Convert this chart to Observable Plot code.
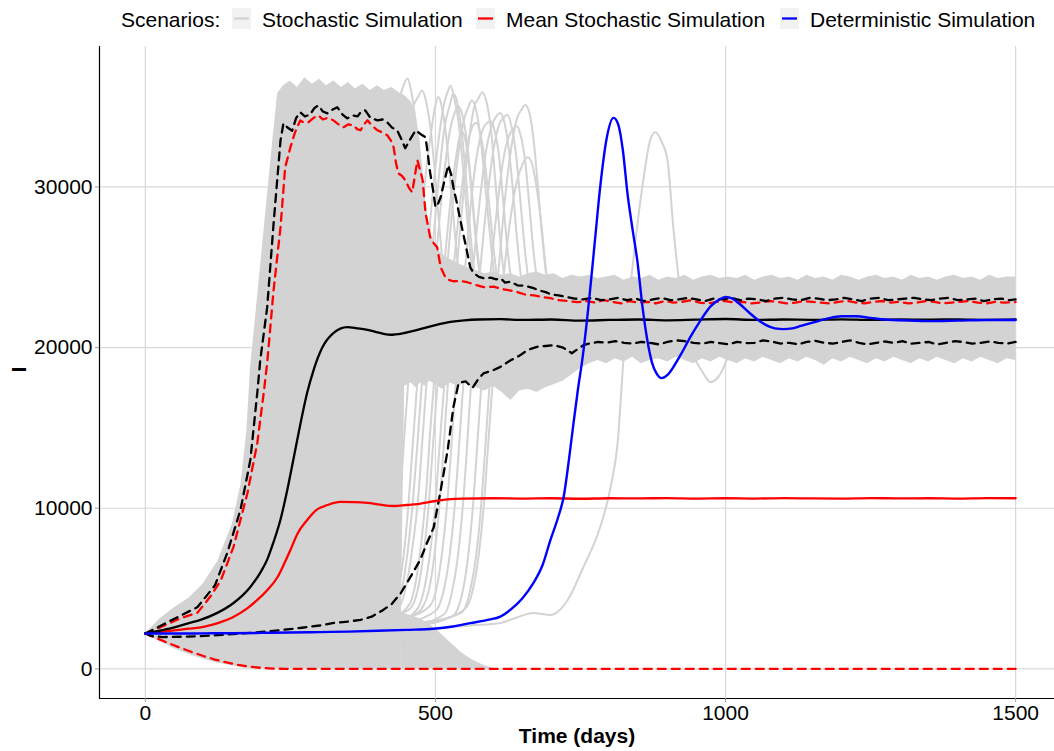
<!DOCTYPE html>
<html>
<head>
<meta charset="utf-8">
<script src="https://cdn.jsdelivr.net/npm/d3@7"></script>
<script src="https://cdn.jsdelivr.net/npm/@observablehq/plot@0.6"></script>
<style>
  body { margin: 0; background: #fff; font-family: "Liberation Sans", Arial, sans-serif; }
  #legend { position: relative; width: 1054px; height: 40px; font-size: 21px; color: #000; }
  #legend span { position: absolute; top: 9px; line-height: 21px; white-space: nowrap; }
  #legend svg { position: absolute; top: 8px; }
</style>
</head>
<body>
<div id="legend"></div>
<div id="chart"></div>
<script>
// ---------- axes ----------
const xDomain = [-79, 1567];
const yDomain = [-1845, 38745];
const xTicks = [0, 500, 1000, 1500];
const yTicks = [0, 10000, 20000, 30000];
const legendLabels = ["Stochastic Simulation", "Mean Stochastic Simulation", "Deterministic Simulation"];
const legendColors = ["#d3d3d3", "#ff0000", "#0000ff"];

// ---------- deterministic simulation ----------
const deterministic = [[0,2200],[50,2200],[100,2210],[150,2220],[200,2240],[250,2260],[300,2290],[350,2320],[400,2370],[450,2430],[497,2500],[530,2640],[560,2850],[590,3050],[612,3250],[630,3700],[650,4400],[669,5350],[685,6500],[698,8000],[712,9500],[721,10700],[730,13000],[738,15300],[746,17500],[753,19200],[765,23000],[775,26700],[784,30000],[795,33000],[807,34300],[815,33900],[823,32300],[831,29600],[840,27300],[848,25400],[857,22500],[865,20500],[873,19100],[881,18400],[890,18100],[900,18300],[912,18900],[925,19700],[940,20700],[957,21700],[975,22600],[990,23000],[1000,23150],[1012,23050],[1025,22700],[1040,22200],[1055,21750],[1070,21400],[1085,21200],[1100,21150],[1115,21200],[1130,21350],[1150,21550],[1175,21800],[1200,21950],[1225,21950],[1250,21850],[1275,21750],[1300,21700],[1350,21650],[1400,21680],[1450,21720],[1500,21720]];

// ---------- mean stochastic (all runs) ----------
const meanAll = [[0,2200],[25,2300],[50,2400],[75,2500],[100,2620],[125,2850],[150,3200],[175,3750],[193,4290],[210,4900],[228,5720],[240,6600],[250,7400],[262,8400],[279,9270],[295,9900],[314,10200],[336,10390],[360,10380],[383,10330],[405,10220],[428,10140],[450,10200],[469,10260],[500,10450],[526,10570],[550,10600],[600,10620],[650,10600],[700,10620],[750,10590],[800,10620],[850,10610],[900,10630],[950,10600],[1000,10620],[1050,10600],[1100,10630],[1150,10610],[1200,10600],[1250,10630],[1300,10610],[1350,10620],[1400,10600],[1450,10630],[1500,10620]];
const meanAllLow = [[0,2200],[20,1900],[40,1600],[60,1320],[80,1050],[100,800],[120,580],[140,400],[160,250],[180,130],[200,60],[220,15],[240,0],[1500,0]];
const meanAllHigh = [[0,2200],[30,2650],[60,3150],[90,3500],[112,4500],[130,5500],[152,7600],[176,10950],[193,14060],[204,17170],[210,19030],[221,23570],[233,27490],[241,31220],[250,32460],[258,33400],[267,34140],[274,34000],[281,34020],[290,34300],[298,34460],[306,34200],[314,34300],[324,34150],[333,33900],[341,33710],[350,33900],[359,33840],[365,33600],[371,33530],[377,33900],[383,34150],[391,33800],[400,33530],[408,33400],[417,33220],[423,32900],[428,32470],[432,31500],[436,30850],[442,30700],[448,30420],[455,29900],[460,29670],[465,30800],[469,31660],[474,31000],[478,30420],[483,28360],[491,26870],[497,26500],[503,26250],[509,25000],[517,24380],[524,24200],[531,24130],[543,24150],[555,24070],[570,23900],[583,23760],[600,23800],[615,23650],[630,23550],[641,23450],[655,23300],[670,23250],[685,23150],[698,23080],[712,22950],[728,22900],[745,22830],[760,22900],[775,22800],[790,22950],[805,22850],[820,22750],[835,22900],[850,22800],[865,22850],[880,22750],[895,22900],[910,22800],[925,22850],[940,22950],[955,22800],[970,22750],[985,22850],[1000,22900],[1015,22800],[1030,22850],[1045,22750],[1060,22800],[1075,22900],[1090,22850],[1105,22750],[1120,22800],[1135,22900],[1150,22850],[1165,22800],[1180,22750],[1195,22850],[1210,22900],[1225,22800],[1240,22750],[1255,22850],[1270,22900],[1285,22800],[1300,22850],[1315,22750],[1330,22800],[1345,22900],[1360,22850],[1375,22750],[1390,22800],[1405,22850],[1420,22900],[1435,22800],[1450,22750],[1465,22850],[1480,22800],[1500,22830]];

// ---------- mean of runs that took off (black) ----------
const meanOutbreak = [[0,2200],[25,2380],[50,2580],[75,2850],[95,3050],[125,3500],[152,4100],[181,5100],[200,6100],[210,6800],[221,7900],[233,9300],[245,11200],[255,13000],[267,15200],[279,17200],[290,18600],[305,20000],[324,20900],[348,21270],[365,21200],[383,21100],[400,20950],[422,20800],[445,20900],[469,21100],[500,21400],[526,21600],[550,21700],[575,21750],[612,21770],[650,21720],[700,21750],[750,21680],[800,21720],[850,21750],[900,21700],[950,21740],[1000,21780],[1050,21720],[1100,21750],[1150,21730],[1200,21760],[1250,21720],[1300,21750],[1350,21740],[1400,21760],[1450,21730],[1500,21750]];
const outbreakLow = [[0,2200],[10,2050],[30,1980],[60,2000],[90,2030],[125,2100],[160,2180],[200,2300],[235,2420],[270,2560],[300,2700],[325,2860],[350,2950],[371,3050],[390,3250],[410,3670],[425,4050],[440,4700],[455,5600],[474,6800],[485,7800],[497,8800],[509,11100],[521,13600],[531,16300],[540,17800],[552,17900],[564,17500],[575,18100],[583,18400],[600,18600],[612,18800],[629,19200],[645,19500],[659,19850],[675,20050],[690,20100],[705,20150],[720,20000],[735,19650],[745,19900],[755,20150],[765,20250],[780,20350],[795,20300],[810,20400],[825,20300],[840,20250],[855,20350],[870,20300],[885,20200],[900,20350],[915,20450],[930,20400],[945,20300],[960,20250],[975,20350],[990,20280],[1005,20200],[1020,20350],[1035,20280],[1050,20300],[1065,20450],[1080,20380],[1095,20250],[1110,20300],[1125,20200],[1140,20350],[1155,20420],[1170,20300],[1185,20250],[1200,20350],[1215,20450],[1230,20300],[1245,20200],[1260,20300],[1275,20380],[1290,20300],[1305,20400],[1320,20250],[1335,20300],[1350,20350],[1365,20200],[1380,20300],[1395,20400],[1410,20350],[1425,20250],[1440,20300],[1455,20380],[1470,20300],[1485,20250],[1500,20350]];
const outbreakHigh = [[0,2200],[30,2750],[60,3300],[90,3850],[100,4300],[120,5200],[141,7200],[164,9900],[181,13000],[193,17200],[198,19200],[210,22500],[221,27700],[233,32900],[238,33960],[245,33700],[253,33500],[260,34300],[267,34650],[275,34400],[284,34500],[291,34900],[298,35080],[306,34700],[314,34580],[322,34800],[331,34960],[340,34500],[348,34270],[357,34460],[366,34400],[372,34700],[379,34770],[388,34300],[400,34150],[409,34200],[417,34020],[425,33700],[434,33530],[441,33000],[448,32410],[457,33000],[466,33530],[474,33300],[483,33090],[487,32000],[491,30850],[496,29800],[500,28740],[505,29000],[509,29360],[515,30300],[522,31350],[527,30800],[531,29980],[537,29000],[543,27930],[549,26900],[555,25880],[560,25000],[566,24630],[575,24400],[583,24320],[595,24350],[605,24250],[612,24320],[620,24050],[630,24100],[641,23880],[655,23850],[669,23700],[680,23550],[690,23450],[700,23300],[712,23250],[728,23140],[740,23050],[755,23000],[770,23100],[785,22950],[800,23000],[815,23100],[830,22950],[845,23050],[860,22900],[875,23000],[890,23100],[905,22950],[920,23000],[935,23100],[950,23000],[965,22900],[980,23050],[995,23000],[1010,23100],[1025,22950],[1040,23050],[1055,23000],[1070,22900],[1085,23050],[1100,23100],[1115,23000],[1130,22950],[1145,23100],[1160,23050],[1175,22950],[1190,23000],[1205,23100],[1220,23000],[1235,22900],[1250,23050],[1265,23100],[1280,22950],[1295,23000],[1310,23050],[1325,23100],[1340,23000],[1355,22950],[1370,23050],[1385,23100],[1400,22950],[1415,23000],[1430,23050],[1445,22900],[1460,23000],[1475,23050],[1490,22950],[1500,23000]];

// ---------- stochastic runs: dense envelope (t, low, high) ----------
const envT  = [0,10,25,50,75,100,125,150,165,175,181,190,200,210,220,228,238,250,262,275,288,300,312,325,338,350,362,375,388,400,412,425,440,447,458,466,474,482,490,500,512,525,540,555,570,585,600,615,630,645,660,675,690,705,720,735,750,765,780,795,810,825,840,855,870,885,900,915,930,945,960,975,990,1005,1020,1035,1050,1065,1080,1095,1110,1125,1140,1155,1170,1185,1200,1215,1230,1245,1260,1275,1290,1305,1320,1335,1350,1365,1380,1395,1410,1425,1440,1455,1470,1485,1500];
const envLo = [2150,1950,1700,1250,900,600,350,200,80,0,0,0,0,0,0,0,0,0,0,0,0,0,0,0,0,0,0,0,0,0,0,0,0,17600,17800,17500,17800,17600,17900,17700,17400,17800,17600,17900,17500,17300,17600,17200,16700,17300,17400,17200,17500,17700,17900,18300,18700,19000,19200,19000,19300,19100,19400,19000,19200,19300,19100,19400,19200,19000,19300,19100,19400,19200,19000,19300,19100,19400,19200,19000,19300,19100,19400,19200,18900,19300,19100,19400,19200,19000,19300,19100,19400,19200,19000,19300,19100,19400,19200,19000,19300,19100,19400,19200,19000,19300,19200];
const envHi = [2250,2550,3100,3800,4400,5300,6700,9000,11500,14800,18600,21900,25600,29300,33000,35800,36300,36600,36200,36800,36400,36700,36300,36600,36200,36500,36100,36400,36000,36300,36000,36200,35800,35700,35300,34600,32800,29500,27300,26300,25800,25500,25200,25000,24800,24600,24700,24500,24600,24400,24600,24700,24500,24600,24300,24500,24400,24500,24300,24400,24500,24200,24400,24300,24500,24200,24400,24300,24500,24200,24400,24500,24300,24400,24300,24500,24200,24400,24500,24300,24400,24200,24500,24300,24400,24200,24500,24400,24200,24400,24500,24300,24400,24200,24500,24300,24400,24200,24400,24500,24300,24400,24200,24500,24300,24400,24400];
// runs dying out / not yet taken off after t = 440
const lowT  = [440,460,480,500,515,530,545,560,575,590,600];
const lowHi = [3500,3300,3000,2500,2000,1500,1000,650,350,100,0];

// ---------- individual visible stochastic runs ----------
const run01 = [[0,2200],[200,2700],[330,3300],[350,4500],[362,6500],[370,9200],[377,12500],[384,16500],[392,20800],[401,25000],[411,29000],[421,32400],[432,34800],[442,36000],[447,36500],[452,36760],[458,36000],[466,34000],[474,31000],[482,27500],[490,24500],[500,22000],[512,20200],[530,19000],[560,19800],[600,21500]];
const run02 = [[0,2200],[150,2500],[300,2900],[360,3400],[380,4300],[392,6000],[400,8500],[407,11500],[414,15500],[421,19500],[430,24500],[440,29000],[450,32500],[460,34800],[470,35600],[477,36000],[484,35300],[492,33500],[500,30500],[508,27000],[516,24000],[525,21500],[537,19500],[552,18500],[570,19300],[600,21000],[640,22000]];
const run03 = [[0,2200],[200,2600],[380,3100],[420,3600],[435,4800],[445,7000],[453,10000],[460,13500],[468,17500],[476,21500],[485,25500],[495,29500],[505,32800],[515,35200],[521,35900],[526,36300],[532,35600],[540,34000],[548,31000],[556,27500],[564,24500],[573,22000],[585,20000],[600,18800],[620,19500],[650,21200],[690,22000]];
const run04 = [[0,2200],[200,2400],[380,2900],[430,3800],[445,5500],[455,8200],[462,10800],[470,14500],[478,18500],[487,22800],[497,27000],[507,31000],[516,33800],[524,35000],[531,35800],[538,35200],[546,33200],[554,30000],[561,26800],[569,24000],[578,21800],[590,20200],[605,19000],[625,19800],[660,21500],[700,22300]];
const run05 = [[0,2200],[250,2500],[420,3100],[455,4000],[467,5600],[476,8000],[484,11000],[491,14800],[499,18500],[508,22300],[518,26200],[528,29800],[537,32200],[542,33200],[545,33500],[551,33000],[558,31300],[565,28500],[572,25800],[580,23500],[590,21500],[603,19800],[620,18800],[650,19900],[690,21600]];
const run06 = [[0,2200],[200,2500],[400,3000],[455,3700],[470,5000],[480,7300],[488,10000],[495,13500],[502,17000],[511,21000],[520,25000],[530,29000],[540,32200],[550,34300],[557,35000],[563,35400],[570,34800],[578,33000],[586,30000],[594,27000],[602,24300],[612,22000],[625,20000],[640,18800],[665,19600],[700,21500],[740,22200]];
const run07 = [[0,2200],[200,2300],[420,2800],[470,3500],[488,4800],[498,7000],[506,9800],[513,13200],[520,17000],[528,21000],[538,25500],[548,29500],[558,33000],[567,35000],[574,35500],[581,35900],[588,35300],[596,33500],[603,30500],[611,27000],[619,24200],[628,22000],[640,20200],[655,19000],[680,19800],[720,21600],[760,22000]];
const run08 = [[0,2200],[250,2600],[450,3200],[490,3900],[503,5200],[512,7400],[520,10200],[527,13600],[534,17300],[542,21200],[552,25300],[562,29300],[573,32300],[583,33700],[590,34000],[595,34100],[602,33500],[610,31800],[617,29000],[624,26200],[632,23800],[642,21500],[655,19700],[672,18600],[700,19500],[740,21200]];
const run09 = [[0,2200],[250,2400],[450,2900],[500,3600],[515,5000],[525,7200],[533,10000],[540,13500],[547,17200],[555,21000],[565,25000],[576,29000],[587,32200],[598,33900],[605,34400],[612,34600],[619,34000],[626,32500],[633,30000],[640,27000],[647,24500],[656,22300],[668,20500],[685,19200],[710,19800],[745,21300],[780,21800]];
const run10 = [[0,2200],[250,2300],[470,2800],[515,3400],[528,4700],[538,6800],[546,9600],[553,13000],[560,17000],[568,21000],[578,25200],[589,29200],[600,32300],[610,33900],[617,34300],[624,34500],[631,33800],[639,32000],[646,29300],[653,26500],[661,24000],[670,22000],[682,20200],[698,19000],[720,19700],[760,21500]];
const run11 = [[0,2200],[250,2300],[470,2700],[530,3300],[545,4500],[555,6600],[563,9400],[570,12800],[577,16600],[585,20500],[595,24600],[606,28600],[617,31700],[627,33200],[634,33600],[640,33800],[647,33200],[655,31500],[662,28800],[669,26000],[677,23700],[686,21800],[698,20000],[715,18900],[740,19600],[775,21300]];
const run12 = [[0,2200],[250,2500],[480,2900],[545,3500],[560,4900],[570,7000],[578,9800],[585,13300],[592,17000],[600,21000],[610,25300],[620,29300],[631,32500],[641,34300],[648,34800],[655,35100],[662,34600],[669,33000],[676,30300],[683,27300],[690,24800],[698,22700],[708,20800],[722,19300],[745,19900],[780,21600]];
const run13 = [[0,2200],[300,2500],[500,3000],[550,3700],[565,5000],[575,7200],[583,10000],[590,13500],[597,17000],[606,20500],[617,24300],[628,27700],[640,30300],[650,31400],[659,31850],[667,31400],[675,29800],[683,27500],[690,25000],[698,22800],[708,20800],[722,19500],[745,20000],[780,21400]];
const run14 = [[0,2200],[200,2000],[400,2300],[500,2500],[560,2700],[612,2860],[640,3200],[669,3480],[698,3360],[728,4290],[755,6340],[784,8830],[802,11320],[814,14060],[824,19220],[841,25440],[859,30600],[870,32900],[879,33400],[890,32800],[900,31660],[910,27490],[919,24380],[930,21500],[945,19500],[960,18500],[974,17850],[990,18300],[1005,19500],[1020,20800],[1040,21500]];
const run15 = [[0,2200],[100,2400],[200,2300],[300,2100],[350,1950],[400,1700],[450,1350],[500,950],[540,600],[570,300],[595,0]];
const run16 = [[0,2200],[100,2600],[200,2800],[300,2700],[350,2500],[400,2300],[450,1900],[500,1400],[530,1000],[560,500],[585,150],[600,0]];
const run17 = [[0,2200],[250,2600],[420,3200],[440,4000],[452,5600],[462,8000],[470,10500],[477,14000],[485,18000],[494,22500],[504,26800],[514,30500],[524,33300],[533,34600],[540,35000],[547,34400],[555,32600],[563,29600],[571,26500],[579,24000],[589,21700],[602,19900],[620,18900],[650,19900],[690,21500]];
const run18 = [[0,2200],[250,2500],[440,3000],[470,3800],[482,5200],[492,7600],[500,10300],[507,13800],[515,17600],[524,21800],[534,26000],[545,29800],[555,32500],[563,33700],[570,34000],[577,33400],[585,31600],[593,28800],[601,25900],[609,23600],[619,21500],[632,19800],[650,18900],[680,20000],[720,21600]];
const run19 = [[0,2200],[250,2700],[400,3300],[415,4400],[425,6200],[433,8600],[440,11200],[447,14800],[455,18800],[464,23000],[474,27200],[484,31000],[494,33800],[500,35100],[505,35600],[511,35000],[519,33000],[527,29800],[535,26500],[543,23800],[553,21500],[566,19600],[585,18700],[615,19800],[650,21400]];
const stochasticRuns = [run01, run02, run03, run04, run05, run06, run07, run08, run09, run10, run11, run12, run13, run14, run15, run16, run17, run18, run19];

// ---------- build tables ----------
const pts = arr => arr.map(([t, v]) => ({t, v}));
const envelope = envT.map((t, i) => ({t, lo: envLo[i], hi: envHi[i]}));
const lowBand = lowT.map((t, i) => ({t, lo: 0, hi: lowHi[i]}));
const runsTable = stochasticRuns.flatMap((r, k) => r.map(([t, v]) => ({run: k, t, v})));

const gray = "#d3d3d3";
const dash = "8,6";
const font = "'Liberation Sans', Arial, Helvetica, sans-serif";

const chart = Plot.plot({
  width: 1054,
  height: 711,
  marginTop: 6,
  marginBottom: 53,
  marginLeft: 99,
  marginRight: 0,
  style: {fontFamily: font, fontSize: "21px", background: "#fff", overflow: "visible"},
  x: {domain: xDomain},
  y: {domain: yDomain},
  marks: [
    Plot.gridX(xTicks, {stroke: "#d9d9d9", strokeOpacity: 1, strokeWidth: 1.2}),
    Plot.gridY(yTicks, {stroke: "#d9d9d9", strokeOpacity: 1, strokeWidth: 1.2}),
    Plot.areaY(envelope, {x: "t", y1: "lo", y2: "hi", fill: gray}),
    Plot.areaY(lowBand, {x: "t", y1: "lo", y2: "hi", fill: gray}),
    Plot.line(runsTable, {x: "t", y: "v", z: "run", stroke: gray, strokeWidth: 2, curve: "monotone-x"}),
    Plot.line(pts(meanAllLow), {x: "t", y: "v", stroke: "#ff0000", strokeWidth: 2.3, strokeDasharray: dash}),
    Plot.line(pts(meanAllHigh), {x: "t", y: "v", stroke: "#ff0000", strokeWidth: 2.3, strokeDasharray: dash}),
    Plot.line(pts(outbreakLow), {x: "t", y: "v", stroke: "#000", strokeWidth: 2.3, strokeDasharray: dash}),
    Plot.line(pts(outbreakHigh), {x: "t", y: "v", stroke: "#000", strokeWidth: 2.3, strokeDasharray: dash}),
    Plot.line(pts(meanAll), {x: "t", y: "v", stroke: "#ff0000", strokeWidth: 2.3, curve: "monotone-x"}),
    Plot.line(pts(meanOutbreak), {x: "t", y: "v", stroke: "#000", strokeWidth: 2.3, curve: "monotone-x"}),
    Plot.line(pts(deterministic), {x: "t", y: "v", stroke: "#0000ff", strokeWidth: 2.4, curve: "monotone-x"}),
    Plot.ruleX([xDomain[0]], {stroke: "#000", strokeWidth: 1.2}),
    Plot.ruleY([yDomain[0]], {stroke: "#000", strokeWidth: 1.2}),
    Plot.axisX(xTicks, {tickSize: 4, tickPadding: 3, tickFormat: "d", fontSize: 21, stroke: "#9a9a9a", fill: "#000", label: null}),
    Plot.axisY(yTicks, {tickSize: 4, tickPadding: 3, tickFormat: "d", fontSize: 21, stroke: "#9a9a9a", fill: "#000", label: null}),
    Plot.text(["Time (days)"], {frameAnchor: "bottom", dy: 38, fontSize: 21, fontWeight: "bold", fill: "#000", lineAnchor: "middle"}),
    Plot.text(["I"], {frameAnchor: "left", dx: -80, rotate: -90, fontSize: 21, fontWeight: "bold", fill: "#000", lineAnchor: "middle"})
  ]
});
document.getElementById("chart").appendChild(chart);

// ---------- legend ----------
const legend = document.getElementById("legend");
const addSpan = (txt, left) => {
  const s = document.createElement("span");
  s.textContent = txt; s.style.left = left + "px"; legend.appendChild(s);
};
addSpan("Scenarios:", 121);
const keyLeft = [232, 476, 780];
const textLeft = [262, 506, 810];
legendLabels.forEach((lab, i) => {
  const k = d3.create("svg").attr("width", 19).attr("height", 21).style("left", keyLeft[i] + "px");
  k.append("rect").attr("width", 19).attr("height", 21).attr("fill", "#f2f2f2");
  k.append("line").attr("x1", 2).attr("x2", 17).attr("y1", 10.5).attr("y2", 10.5)
    .attr("stroke", legendColors[i]).attr("stroke-width", 2.3);
  legend.appendChild(k.node());
  addSpan(lab, textLeft[i]);
});
</script>
</body>
</html>
